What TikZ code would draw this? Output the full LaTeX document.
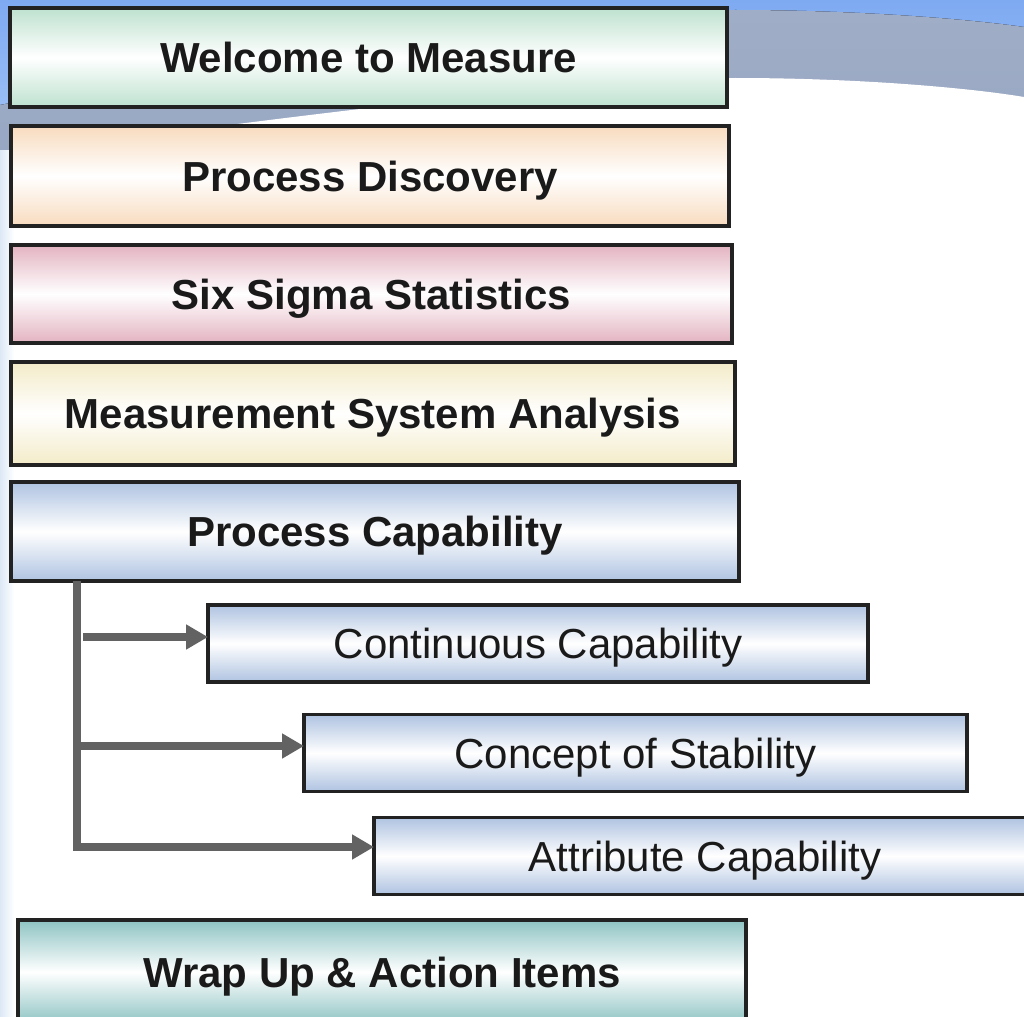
\documentclass[tikz,border=0pt]{standalone}
\usepackage{fontspec}
\setmainfont{Liberation Sans}
\usetikzlibrary{arrows.meta,calc}
\definecolor{skyblue}{HTML}{7EAAF2}
\definecolor{skypale}{HTML}{A9C8F6}
\definecolor{swoosh}{HTML}{A0ADC6}
\definecolor{swooshdark}{HTML}{97A7C3}
\definecolor{edgeblue}{HTML}{DCE8F6}
\definecolor{boxline}{HTML}{222222}
\definecolor{txt}{HTML}{1A1A1A}
\definecolor{linkgray}{HTML}{626262}
\definecolor{cgreen}{HTML}{BEE2CF}
\definecolor{cpeach}{HTML}{F8DBBE}
\definecolor{cpink}{HTML}{E3B3C1}
\definecolor{ccream}{HTML}{F3EBC8}
\definecolor{cblue}{HTML}{AFC3E1}
\definecolor{cteal}{HTML}{8EC3C3}
\begin{document}
\begin{tikzpicture}[x=0.02cm,y=-0.02cm,
  stage/.style={draw=boxline, line width=2.2pt, inner sep=0pt, outer sep=0pt,
    font=\fontsize{23.9}{28}\selectfont\bfseries, text=txt,
    text height=17.1pt, text depth=0pt},
  tint/.style={top color=#1, bottom color=#1, middle color=white},
  substage/.style={stage, font=\fontsize{23.9}{28}\selectfont, tint=cblue},
  link/.style={draw=linkgray, line width=4.3pt, line join=miter,
    -{Triangle[length=12.5pt,width=13.5pt]}},
]
\useasboundingbox (0,0) rectangle (1024,1017);

% backdrop: sky band, grey swoosh, white page
\fill[top color=skyblue, bottom color=skypale] (0,0) rectangle (1024,170);
\fill[top color=swoosh, bottom color=swooshdark]
  (0,105) .. controls (300,45) and (600,12) .. (735,10)
  .. controls (850,10) and (960,18) .. (1024,27)
  -- (1024,120) -- (0,165) -- cycle;
\fill[white] (0,155) .. controls (250,122) and (560,80) .. (735,78)
  .. controls (860,78) and (970,88) .. (1024,97)
  -- (1024,1017) -- (0,1017) -- cycle;
\fill[left color=edgeblue, right color=white] (0,150) rectangle (14,1017);

% main stages
\node[stage, tint=cgreen, minimum width=717*0.02cm, minimum height=99*0.02cm]
  (wel) at (368.5,57.5) {Welcome to Measure};
\node[stage, tint=cpeach, minimum width=718*0.02cm, minimum height=100*0.02cm]
  (pd) at (370,176) {Process Discovery};
\node[stage, tint=cpink, minimum width=721*0.02cm, minimum height=98*0.02cm]
  (sss) at (371.5,294) {Six Sigma Statistics};
\node[stage, tint=ccream, minimum width=724*0.02cm, minimum height=103*0.02cm]
  (msa) at (373,413.5) {Measurement System Analysis};
\node[stage, tint=cblue, minimum width=728*0.02cm, minimum height=99*0.02cm]
  (pc) at (375,531.5) {Process Capability};

% sub-topics of process capability
\node[substage, minimum width=660*0.02cm, minimum height=77*0.02cm]
  (cc) at (538,643.5) {Continuous Capability};
\node[substage, minimum width=663*0.02cm, minimum height=77*0.02cm]
  (cs) at (635.5,753) {Concept of Stability};
\node[substage, minimum width=662*0.02cm, minimum height=77*0.02cm]
  (ac) at (705,856) {Attribute Capability};

\node[stage, tint=cteal, minimum width=728*0.02cm, minimum height=104*0.02cm]
  (wrap) at (382,972) {Wrap Up \& Action Items};

% branch connectors
\coordinate (trunk) at (77,581);
\coordinate (a1) at (83,637);
\coordinate (a2) at (77,746);
\coordinate (a3) at (77,847);
\draw[link] (trunk) -- (a3) -- (a3 -| ac.west);
\draw[link] (a2) -- (a2 -| cs.west);
\draw[link] (a1) -- (a1 -| cc.west);
\end{tikzpicture}
\end{document}
